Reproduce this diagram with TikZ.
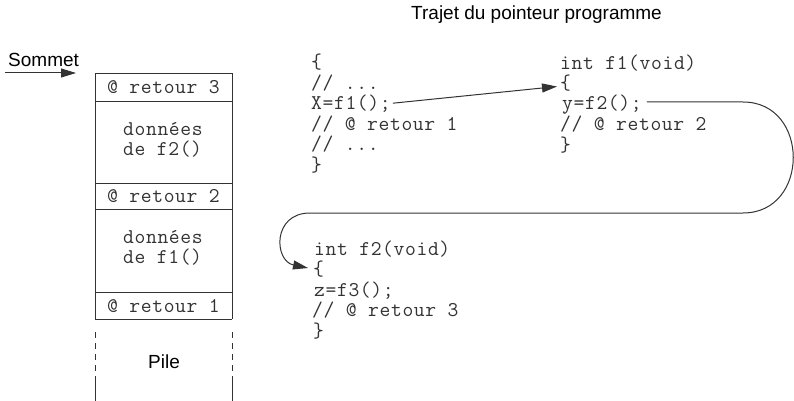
\documentclass[tikz,border=0pt]{standalone}
\usepackage{fontspec}
\setmainfont{Liberation Sans}
\newfontfamily\codefont[LetterSpace=3]{Latin Modern Mono}
\usetikzlibrary{arrows.meta}
\definecolor{ink}{HTML}{333333}
\tikzset{
  code/.style={anchor=base west, inner sep=0pt, text=ink, font=\codefont\fontsize{21}{21}\selectfont},
  sans/.style={anchor=base west, inner sep=0pt, text=black, font=\fontsize{19}{19}\selectfont},
  box/.style={draw=ink, line width=0.9pt},
  flow/.style={draw=ink, line width=1pt, -{Triangle[length=15pt,width=9pt]}}
}
\begin{document}
\begin{tikzpicture}[x=1pt,y=-1pt]
\useasboundingbox (0,0) rectangle (794,401);
% title
\node[sans] (title) at (411,20) {Trajet du pointeur programme};
% Sommet
\node[sans] (sommet) at (8,66.5) {Sommet};
\coordinate (s0) at (5,73);
\coordinate (s1) at (76,73);
\draw[flow] (s0) -- (s1);
% stack
\draw[box] (95,319) -- (95,73) -- (232,73) -- (232,319);
\foreach \y in {101,183,209,292,319} \draw[box] (95,\y) -- (232,\y);
\foreach \x in {95,232} {
  \foreach \y in {332,343,354,365} \draw[box] (\x,\y) -- (\x,\y+6);
  \draw[box] (\x,376) -- (\x,401);
}
\node[code] (r3) at (107,94) {@ retour 3};
\node[code] (d2a) at (123,135.5) {données};
\node[code] (d2b) at (123,155.5) {de f2()};
\node[code] (r2) at (107,202) {@ retour 2};
\node[code] (d1a) at (123,243.5) {données};
\node[code] (d1b) at (123,263.5) {de f1()};
\node[code] (r1) at (107,312) {@ retour 1};
\node[sans,anchor=base] (pile) at (164,368) {Pile};
% block 1
\node[code] (a1) at (311,68.5) {\{};
\node[code] (a2) at (311,89.1) {// ...};
\node[code] (a3) at (311,109.7) {X=f1();};
\node[code] (a4) at (311,130.3) {// @ retour 1};
\node[code] (a5) at (311,150.9) {// ...};
\node[code] (a6) at (311,171.5) {\}};
% block 2
\node[code] (b1) at (560,69.5) {int f1(void)};
\node[code] (b2) at (560,89.5) {\{};
\node[code] (b3) at (562,110) {y=f2();};
\node[code] (b4) at (560,130.5) {// @ retour 2};
\node[code] (b5) at (560,151) {\}};
% block 3
\node[code] (c1) at (314,255) {int f2(void)};
\node[code] (c2) at (313,275.5) {\{};
\node[code] (c3) at (314,296) {z=f3();};
\node[code] (c4) at (312,316.5) {// @ retour 3};
\node[code] (c5) at (313,337) {\}};
% arrows
\draw[flow] ([xshift=2pt,yshift=6.5pt]a3.base east) -- ([xshift=-3pt,yshift=3pt]b2.base west);
\coordinate (p1) at (743,102);
\coordinate (p2) at (743,213);
\coordinate (p3) at (310,213);
\coordinate (p4) at (308,268);
\draw[flow] ([xshift=5pt,yshift=8pt]b3.base east) -- (p1)
  .. controls (810,102) and (810,213) .. (p2) -- (p3)
  .. controls (272,213) and (274,261) .. (p4);
\end{tikzpicture}
\end{document}
